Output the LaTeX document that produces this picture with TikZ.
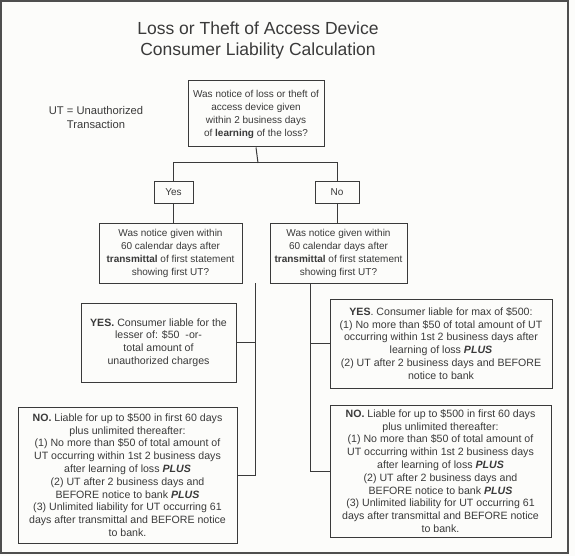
\documentclass[tikz,border=0pt]{standalone}
\usepackage{fontspec}
\setmainfont{Liberation Sans}
\definecolor{ink}{HTML}{3A3A3A}
\definecolor{bg}{HTML}{FCFCFA}
\begin{document}
\begin{tikzpicture}[x=1pt,y=-1pt,
  box/.style={draw=ink,line width=1pt,text=ink,align=center,inner sep=0pt,
    font=\fontsize{10}{13}\selectfont},
  bigbox/.style={box,font=\fontsize{10.6}{12.8}\selectfont},
  conn/.style={draw=ink,line width=1pt},
  lbl/.style={text=ink,align=center,inner sep=0pt}]
\fill[bg] (0,0) rectangle (575,556);
\useasboundingbox (0,0) rectangle (575,556);
\draw[ink!90,line width=1.6pt] (1,1) rectangle (568,553);
\node[lbl,font=\fontsize{17.5}{21}\selectfont] (title) at (258,40) {Loss or Theft of Access Device\\Consumer Liability Calculation};
\node[lbl,font=\fontsize{11.2}{14}\selectfont] (ut) at (96,117) {UT = Unauthorized\\Transaction};
\node[box,minimum width=136pt,minimum height=66pt] (top) at (256,114) {Was notice of loss or theft of\\access device given\\within 2 business days\\of \textbf{learning} of the loss?};
\node[box,minimum width=39pt,minimum height=21pt] (yes) at (173.5,192.5) {Yes};
\node[box,minimum width=44pt,minimum height=21pt] (no) at (337,192.5) {No};
\node[box,minimum width=143pt,minimum height=60pt] (lq) at (170.5,253) {Was notice given within\\60 calendar days after\\\textbf{transmittal} of first statement\\showing first UT?};
\node[box,minimum width=137pt,minimum height=60pt] (rq) at (338.5,253) {Was notice given within\\60 calendar days after\\\textbf{transmittal} of first statement\\showing first UT?};
\node[bigbox,minimum width=155pt,minimum height=79pt] (lyes) at (158.5,342.5) {\textbf{YES.} Consumer liable for the\\lesser of: \$50\ \ -or-\\total amount of\\unauthorized charges};
\node[bigbox,minimum width=219pt,minimum height=136pt] (lno) at (127.5,475) {\textbf{NO.} Liable for up to \$500 in first 60 days\\plus unlimited thereafter:\\(1) No more than \$50 of total amount of\\UT occurring within 1st 2 business days\\after learning of loss \textbf{\textit{PLUS}}\\(2) UT after 2 business days and\\BEFORE notice to bank \textbf{\textit{PLUS}}\\(3) Unlimited liability for UT occurring 61\\days after transmittal and BEFORE notice\\to bank.};
\node[bigbox,minimum width=222pt,minimum height=89pt] (ryes) at (441,343.5) {\textbf{YES}. Consumer liable for max of \$500:\\(1) No more than \$50 of total amount of UT\\occurring within 1st 2 business days after\\learning of loss \textbf{\textit{PLUS}}\\(2) UT after 2 business days and BEFORE\\notice to bank};
\node[bigbox,minimum width=221pt,minimum height=132pt] (rno) at (440.5,471) {\textbf{NO.} Liable for up to \$500 in first 60 days\\plus unlimited thereafter:\\(1) No more than \$50 of total amount of\\UT occurring within 1st 2 business days\\after learning of loss \textbf{\textit{PLUS}}\\(2) UT after 2 business days and\\BEFORE notice to bank \textbf{\textit{PLUS}}\\(3) Unlimited liability for UT occurring 61\\days after transmittal and BEFORE notice\\to bank.};
\coordinate (split) at (258,163);
\coordinate (spL) at (255,283);
\coordinate (spR) at (310,283);
\draw[conn] (top.south) -- (split);
\draw[conn] (yes.north) -- (yes.north |- split) -- (no.north |- split) -- (no.north);
\draw[conn] (yes.south) -- (lq.north -| yes.south);
\draw[conn] (no.south) -- (rq.north -| no.south);
\draw[conn] (spL) -- (spL |- lno.east) -- (lno.east);
\draw[conn] (spL |- lyes.east) -- (lyes.east);
\draw[conn] (spR) -- (spR |- rno.west) -- (rno.west);
\draw[conn] (spR |- ryes.west) -- (ryes.west);
\end{tikzpicture}
\end{document}
